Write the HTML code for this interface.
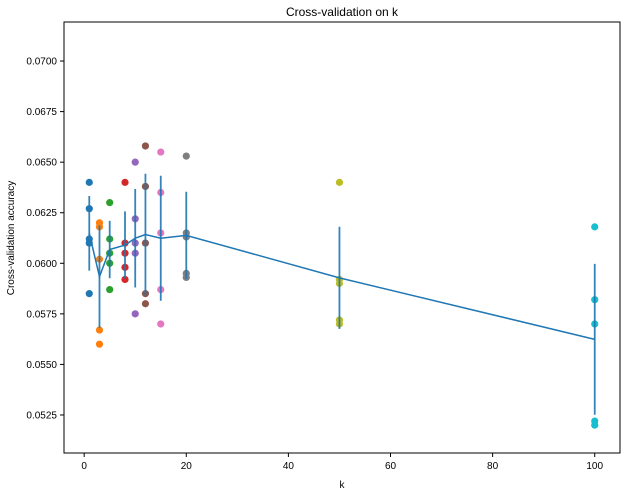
<!DOCTYPE html>
<html><head><meta charset="utf-8"><style>
body{margin:0;background:#fff;}
svg text{font-family:"Liberation Sans","DejaVu Sans",sans-serif;}
</style></head><body>
<svg id="chart" width="632" height="496" xmlns="http://www.w3.org/2000/svg">
<rect width="632" height="496" fill="#fff"/>
<text x="342" y="16" text-anchor="middle" font-size="12">Cross-validation on k</text>
<text x="342" y="488" text-anchor="middle" font-size="10">k</text>
<text transform="translate(14,238) rotate(-90)" text-anchor="middle" font-size="10">Cross-validation accuracy</text>
<g id="axes"></g>
<g id="marks"></g>
<rect x="64" y="22" width="556" height="431" fill="none" stroke="#000" stroke-width="1"/>
</svg>
<script>
const ks = [1,3,5,8,10,12,15,20,50,100];
const scores = [
 [0.0640,0.0627,0.0612,0.0610,0.0585],
 [0.0620,0.0618,0.0602,0.0567,0.0560],
 [0.0630,0.0612,0.0605,0.0600,0.0587],
 [0.0640,0.0610,0.0605,0.0598,0.0592],
 [0.0650,0.0622,0.0610,0.0605,0.0575],
 [0.0658,0.0638,0.0610,0.0585,0.0580],
 [0.0655,0.0635,0.0615,0.0587,0.0570],
 [0.0653,0.0615,0.0613,0.0595,0.0593],
 [0.0640,0.0592,0.0590,0.0572,0.0570],
 [0.0618,0.0582,0.0570,0.0522,0.0520]
];
const xTicks = [0,20,40,60,80,100];
const yTicks = [0.0525,0.0550,0.0575,0.0600,0.0625,0.0650,0.0675,0.0700];
const colors = ['#1f77b4','#ff7f0e','#2ca02c','#d62728','#9467bd','#8c564b','#e377c2','#7f7f7f','#bcbd22','#17becf'];

const X0=64,X1=620,Y0=22,Y1=453;
const xmin=-3.95,xmax=104.95,ymin=0.05062,ymax=0.07193;
const sx=v=>X0+(v-xmin)/(xmax-xmin)*(X1-X0);
const sy=v=>Y1-(v-ymin)/(ymax-ymin)*(Y1-Y0);
const NS='http://www.w3.org/2000/svg';
function mk(tag,attrs,parent){const e=document.createElementNS(NS,tag);for(const k in attrs)e.setAttribute(k,attrs[k]);parent.appendChild(e);return e;}
const axes=document.getElementById('axes'),marks=document.getElementById('marks');
xTicks.forEach(t=>{
 const x=sx(t);
 const l=mk('line',{x1:x,x2:x,y1:Y1,y2:Y1+4,stroke:'#000'},axes);
 
 
 const tx=mk('text',{x:x,y:Y1+16,'text-anchor':'middle','font-size':'10'},axes);
 tx.textContent=t;
 
 
});
yTicks.forEach(t=>{
 const y=sy(t);
 const l=mk('line',{x1:X0-4,x2:X0,y1:y,y2:y,stroke:'#000'},axes);
 
 
 const tx=mk('text',{x:X0-7,y:y+3.5,'text-anchor':'end','font-size':'10'},axes);
 tx.textContent=t.toFixed(4);
 
 
});
ks.forEach((k,i)=>{
 scores[i].forEach(v=>{
  const c=mk('circle',{cx:sx(k),cy:sy(v),r:3.6,fill:colors[i]},marks);
  
  
 });
});
const means=scores.map(a=>a.reduce((s,v)=>s+v,0)/a.length);
const stds=scores.map((a,i)=>Math.sqrt(a.reduce((s,v)=>s+(v-means[i])**2,0)/a.length));
ks.forEach((k,i)=>{
 const e=mk('line',{x1:sx(k),x2:sx(k),y1:sy(means[i]-stds[i]),y2:sy(means[i]+stds[i]),stroke:'#1f77b4','stroke-width':1.8,opacity:0.9},marks);
 
 
});
const p=mk('polyline',{points:ks.map((k,i)=>sx(k)+','+sy(means[i])).join(' '),fill:'none',stroke:'#1f77b4','stroke-width':1.5},marks);


</script>
</body></html>
